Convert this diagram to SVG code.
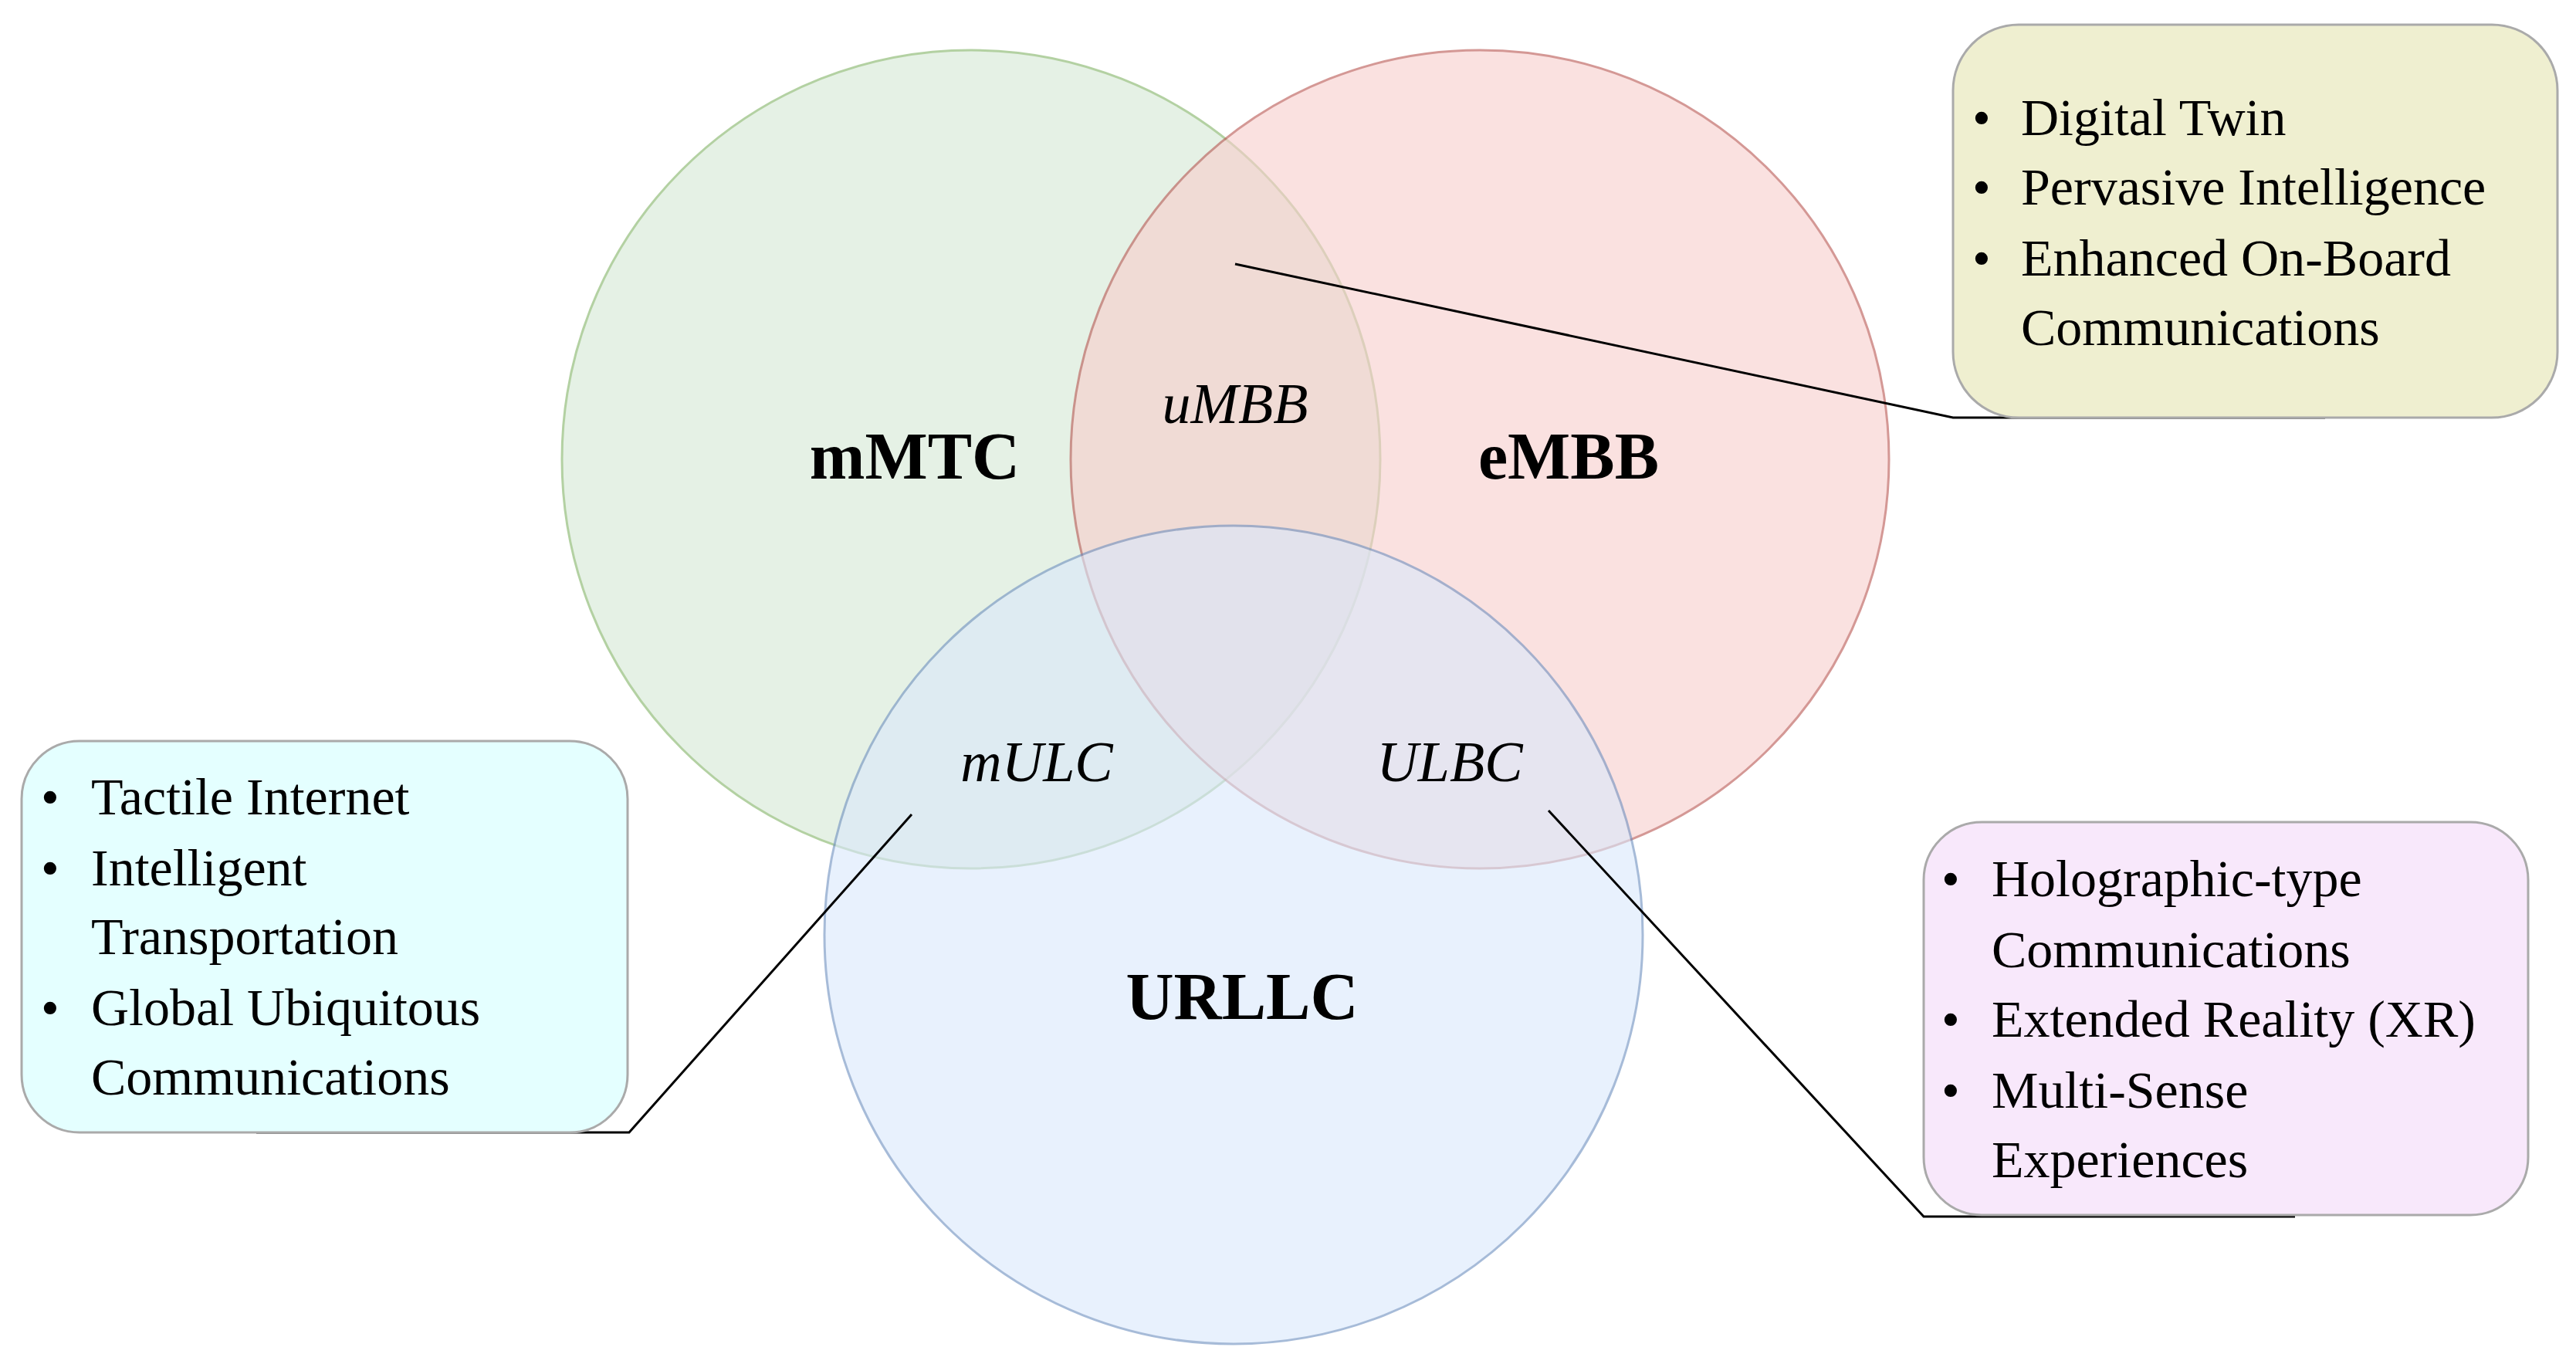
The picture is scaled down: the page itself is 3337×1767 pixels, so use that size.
<svg xmlns="http://www.w3.org/2000/svg" width="3337" height="1767" viewBox="0 0 3337 1767">
<style>
text{font-family:"Liberation Serif","Times New Roman",serif;fill:#000}
.big{font-size:86px;font-weight:bold;text-anchor:middle}
.it{font-size:74px;font-style:italic;text-anchor:middle}
.li{font-size:68px}
.box{stroke:#aaaaaa;stroke-width:3}
.c{stroke-width:3;opacity:0.6}
.ln{fill:none;stroke:#000;stroke-width:3}
</style>
<rect width="3337" height="1767" fill="#fff"/>
<g id="mMTC"><circle class="c" cx="1258" cy="595" r="530" fill="#d5e8d4" stroke="#82b366"/></g>
<g id="eMBB"><circle class="c" cx="1917" cy="595" r="530" fill="#f8cecc" stroke="#b85450"/></g>
<g id="URLLC"><circle class="c" cx="1598" cy="1211" r="530" fill="#dae8fc" stroke="#6c8ebf"/></g>
<g id="labels">
<text class="big" x="1185" y="620">mMTC</text>
<text class="big" x="2032" y="620">eMBB</text>
<text class="big" x="1609" y="1320">URLLC</text>
<text class="it" x="1600" y="548">uMBB</text>
<text class="it" x="1343" y="1012">mULC</text>
<text class="it" x="1878" y="1012">ULBC</text>
</g>
<g id="connectors">
<polyline class="ln" points="1600,342 2530,541 3012,541"/>
<polyline class="ln" points="1181,1055 815,1467 332,1467"/>
<polyline class="ln" points="2006,1050 2492,1576 2973,1576"/>
</g>
<g id="box-top"><rect class="box" x="2530" y="32" width="783" height="509" rx="85" fill="#efefd0"/>
<text class="li" x="2555" y="175">•</text><text class="li" x="2618" y="175">Digital Twin</text>
<text class="li" x="2555" y="265">•</text><text class="li" x="2618" y="265">Pervasive Intelligence</text>
<text class="li" x="2555" y="357">•</text><text class="li" x="2618" y="357">Enhanced On-Board</text>
<text class="li" x="2618" y="447">Communications</text></g>
<g id="box-left"><rect class="box" x="28" y="960" width="785" height="507" rx="75" fill="#e4ffff"/>
<text class="li" x="53" y="1055">•</text><text class="li" x="118" y="1055">Tactile Internet</text>
<text class="li" x="53" y="1147">•</text><text class="li" x="118" y="1147">Intelligent</text>
<text class="li" x="118" y="1236">Transportation</text>
<text class="li" x="53" y="1328">•</text><text class="li" x="118" y="1328">Global Ubiquitous</text>
<text class="li" x="118" y="1418">Communications</text></g>
<g id="box-right"><rect class="box" x="2492" y="1065" width="783" height="509" rx="75" fill="#f8e8fb"/>
<text class="li" x="2515" y="1161">•</text><text class="li" x="2580" y="1161">Holographic-type</text>
<text class="li" x="2580" y="1253">Communications</text>
<text class="li" x="2515" y="1343">•</text><text class="li" x="2580" y="1343">Extended Reality (XR)</text>
<text class="li" x="2515" y="1435">•</text><text class="li" x="2580" y="1435">Multi-Sense</text>
<text class="li" x="2580" y="1525">Experiences</text></g>
</svg>
